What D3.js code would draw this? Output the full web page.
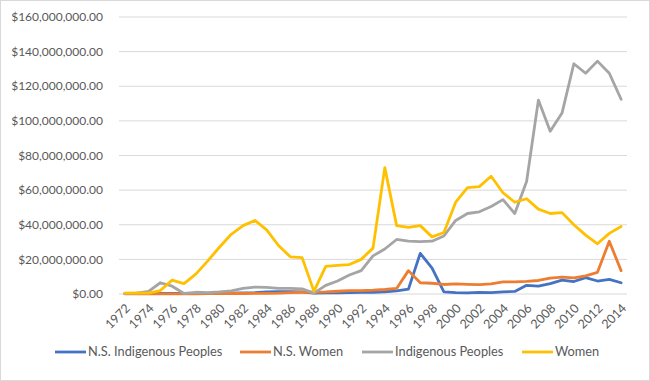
<!DOCTYPE html>
<html><head><meta charset="utf-8">
<script src="https://cdn.jsdelivr.net/npm/d3@7"></script>
<style>body{margin:0;background:#fff}svg{display:block}text{font-family:Lato,"Open Sans",sans-serif}</style>
</head><body><svg id="c" width="650" height="381"></svg>
<script>
const years = d3.range(1972, 2015);
const seriesNames = ["N.S. Indigenous Peoples","N.S. Women","Indigenous Peoples","Women"];
const seriesColors = ["#4472C4","#ED7D31","#A5A5A5","#FFC000"];
// values in millions of dollars
const nsIndigenous = [0.2,0.2,0.2,0.3,0.3,0.3,0.3,0.4,0.4,0.5,0.6,0.8,1.2,1.3,1.3,1.2,0.5,0.6,0.7,0.8,0.9,1.0,1.3,1.8,2.8,23.5,15,1.2,0.8,0.6,0.9,0.8,1.2,1.5,5,4.5,6,8,7.2,9.5,7.5,8.5,6.5];
const nsWomen = [0.1,0.1,0.1,0.1,0.1,0.1,0.1,0.2,0.2,0.3,0.3,0.4,0.4,0.5,0.8,1.0,1.0,1.2,1.6,2.0,2.0,2.2,2.6,3.2,13.5,6.5,6.2,5.5,5.8,5.6,5.4,5.8,7,7,7.3,7.8,9.2,9.8,9.3,10.5,12.5,30.5,13.5];
const indigenous = [0.3,0.5,1.5,6.5,4.5,0.3,1,0.8,1.2,1.8,3.2,4,3.8,3.2,3.2,3,0.5,5,7.5,11,13.5,22,26,31.5,30.5,30.2,30.5,33.5,42.5,46.5,47.5,50.5,54.5,46.5,65,112,94,104.5,133,127.5,134.5,127.5,112.5];
const women = [0.5,0.7,0.5,2,8,6,11.5,19,27,34.5,39.5,42.5,37,28,21.5,21,1.5,16,16.5,17,20,26.5,73,39.5,38.5,39.5,33,35.5,53,61.5,62,68,58.5,53,55,49,46.5,47,40,34,29,35,39];
const yTicks = [0,20,40,60,80,100,120,140,160];
const xTickYears = years.filter(y => (y - 1972) % 2 === 0);

const svg = d3.select("#c");
svg.append("rect").attr("x",0.5).attr("y",0.5).attr("width",649).attr("height",380).attr("fill","#fff").attr("stroke","#D9D9D9");

const x = d3.scaleBand().domain(years).range([119, 627]);
const y = d3.scaleLinear().domain([0,160]).range([294, 17]);

const grid = svg.append("g");
yTicks.forEach(t => {
  grid.append("line").attr("x1",119).attr("x2",627).attr("y1",y(t)).attr("y2",y(t))
    .attr("stroke","#D9D9D9").attr("stroke-width",1);
});
const fmt = d3.format(",.2f");
const yAxis = svg.append("g");
yTicks.forEach(t => {
  yAxis.append("text").attr("x",103).attr("y",y(t)).attr("dy","0.35em").attr("text-anchor","end")
    .attr("font-size",12).attr("fill","#595959").text("$" + fmt(t*1e6));
});
const xAxis = svg.append("g");
xTickYears.forEach(yr => {
  const cx = x(yr) + x.bandwidth()/2;
  xAxis.append("text").attr("transform",`translate(${cx+3},${306}) rotate(-45)`)
    .attr("text-anchor","end").attr("dy","0.35em").attr("font-size",12.5).attr("fill","#595959").text(yr);
});

const data = [nsIndigenous, nsWomen, indigenous, women];
const line = d3.line().x((d,i) => x(years[i]) + x.bandwidth()/2).y(d => y(d));
data.forEach((s,i) => {
  svg.append("path").datum(s).attr("d",line).attr("fill","none")
    .attr("stroke",seriesColors[i]).attr("stroke-width",2.8).attr("stroke-linejoin","round").attr("stroke-linecap","round");
});

const legendX = [55, 240, 362, 522];
const lg = svg.append("g");
seriesNames.forEach((n,i) => {
  lg.append("line").attr("x1",legendX[i]).attr("x2",legendX[i]+31).attr("y1",352).attr("y2",352)
    .attr("stroke",seriesColors[i]).attr("stroke-width",2.8);
  lg.append("text").attr("x",legendX[i]+33).attr("y",352).attr("dy","0.35em").attr("font-size",12.8)
    .attr("fill","#595959").text(n);
});
</script></body></html>
